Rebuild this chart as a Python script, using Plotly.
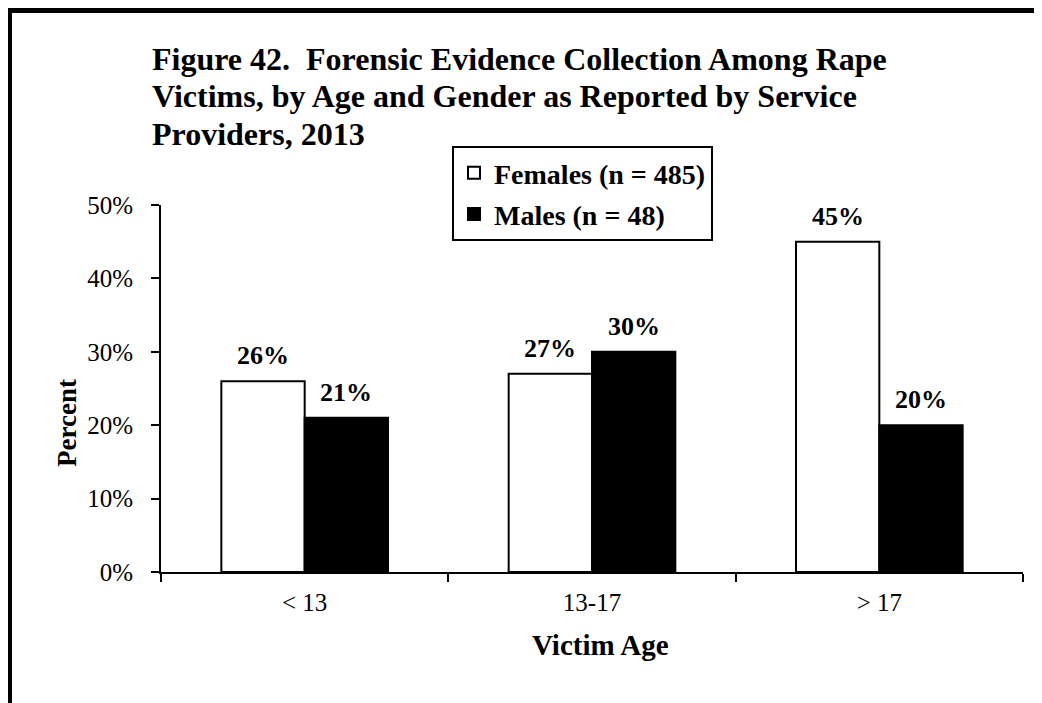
import plotly.graph_objects as go

categories = ["< 13", "13-17", "> 17"]
females = [26, 27, 45]
males = [21, 30, 20]
series_names = ["Females (n = 485)", "Males (n = 48)"]
y_ticks = [0, 10, 20, 30, 40, 50]
y_tick_labels = ["0%", "10%", "20%", "30%", "40%", "50%"]
title_lines = ["Figure 42.  Forensic Evidence Collection Among Rape",
               "Victims, by Age and Gender as Reported by Service",
               "Providers, 2013"]

FONT = "Liberation Serif, Times New Roman, serif"
W, H = 1042, 703
OFF = 8  # page body margin
L, R, T, B = 153, 27, 197, 139
plot_w = W - L - R
plot_h = H - T - B


def px(sx):  # screen x -> paper x
    return (sx - OFF - L) / plot_w


def py(sy):  # screen y -> paper y
    return (H - B - (sy - OFF)) / plot_h


fig = go.Figure()
fig.add_trace(go.Bar(x=categories, y=females, name="<b>" + series_names[0] + "</b>", legendgroup="f",
                     marker=dict(color="white", line=dict(color="black", width=2))))
fig.add_trace(go.Bar(x=categories, y=males, name="<b>" + series_names[1] + "</b>", legendgroup="m",
                     marker=dict(color="black", line=dict(color="black", width=2))))

bargap = 0.42
bar_px = plot_w / len(categories) * (1 - bargap) / 2
for vals, sgn in ((females, -1), (males, 1)):
    for c, v in zip(categories, vals):
        fig.add_annotation(x=c, y=v, xref="x", yref="y", text=f"<b>{v}%</b>",
                           showarrow=False, xshift=sgn * bar_px / 2, yanchor="bottom", yshift=9,
                           font=dict(family=FONT, size=26, color="black"))

for i, line in enumerate(title_lines):
    fig.add_annotation(text=f"<b>{line}</b>", xref="paper", yref="paper",
                       x=px(150), y=py(58.5 + 37.5 * i), xanchor="left", yanchor="middle",
                       showarrow=False, font=dict(family=FONT, size=32, color="black"))

fig.add_annotation(text="<b>Percent</b>", textangle=-90, xref="paper", yref="paper",
                   x=px(50), y=py(423), showarrow=False,
                   font=dict(family=FONT, size=27, color="black"))
fig.add_annotation(text="<b>Victim Age</b>", xref="paper", yref="paper",
                   x=px(600), y=py(663), showarrow=False,
                   font=dict(family=FONT, size=29, color="black"))

# outer frame
fig.add_shape(type="rect", xref="paper", yref="paper",
              x0=px(9.5), x1=px(1110), y0=py(760), y1=py(10.5),
              line=dict(color="black", width=5), fillcolor="rgba(0,0,0,0)", layer="below")

fig.update_layout(
    width=W, height=H, margin=dict(l=L, r=R, t=T, b=B),
    paper_bgcolor="white", plot_bgcolor="white",
    barmode="group", bargap=bargap, bargroupgap=0,
    font=dict(family=FONT, size=25, color="black"),
    legend=dict(x=px(452), y=py(146), xanchor="left", yanchor="top",
                bordercolor="black", borderwidth=2, bgcolor="white",
                font=dict(family=FONT, size=28, color="black"),
                traceorder="grouped", tracegroupgap=2, itemwidth=30),
    showlegend=True,
    xaxis=dict(showline=True, linecolor="black", linewidth=2, ticks="outside", ticklen=8,
               tickwidth=2, tickcolor="black", tickson="boundaries", showgrid=False,
               tickfont=dict(family=FONT, size=25), ticklabelstandoff=7),
    yaxis=dict(range=[0, 50], tickvals=y_ticks, ticktext=y_tick_labels, showline=True,
               linecolor="black", linewidth=2, ticks="outside", ticklen=8, tickwidth=2,
               tickcolor="black", showgrid=False, zeroline=False,
               tickfont=dict(family=FONT, size=25), ticklabelstandoff=13),
)

fig.write_html("out.html")
